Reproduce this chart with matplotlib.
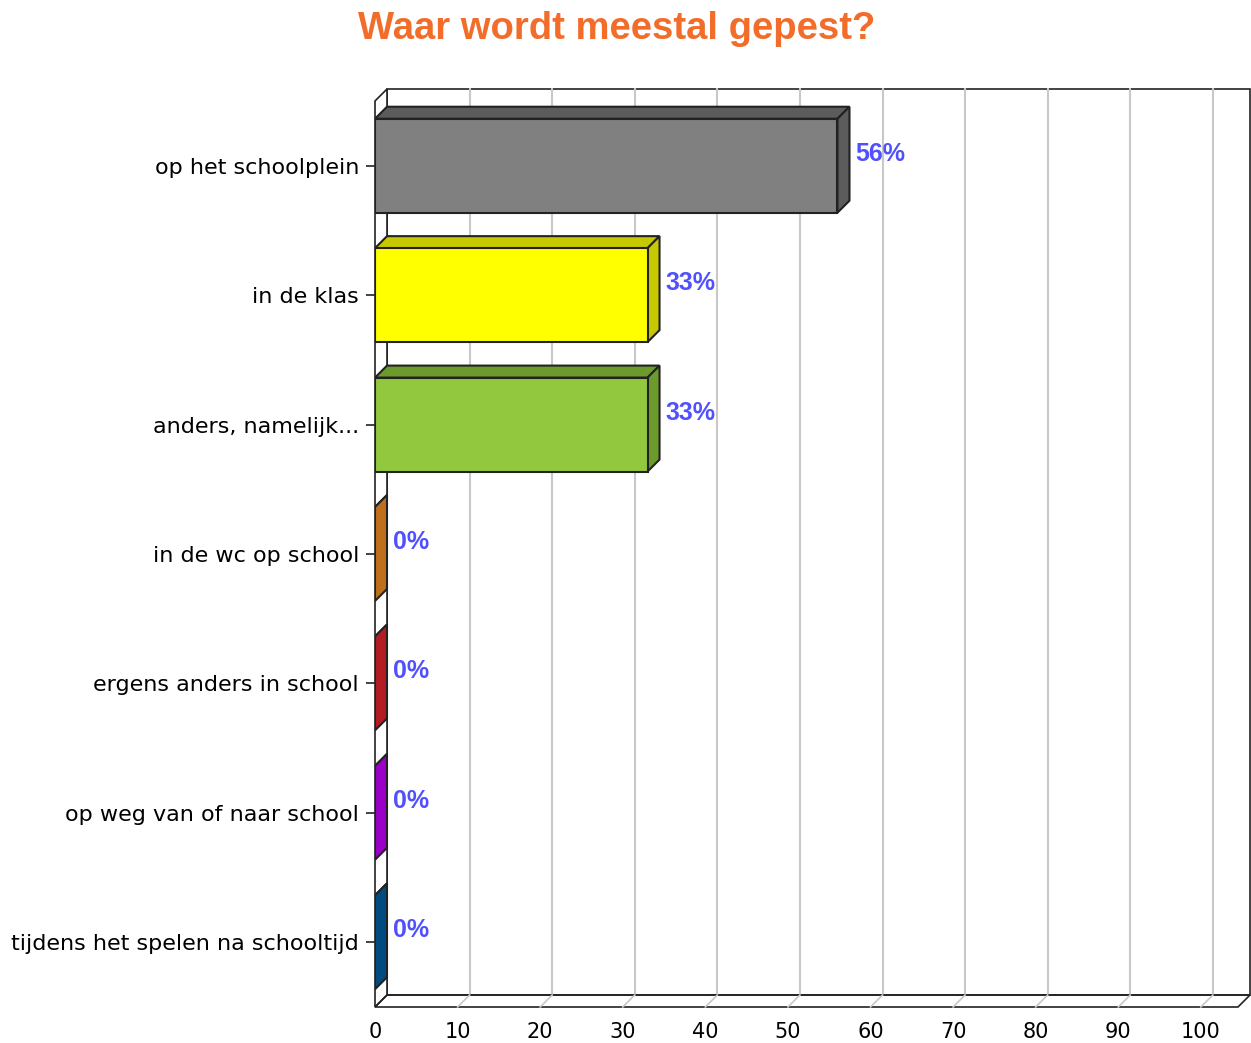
#!/usr/bin/env python3
import matplotlib
matplotlib.use('Agg')
import matplotlib.pyplot as plt
from matplotlib.patches import Polygon, Rectangle

# data
categories = ['op het schoolplein', 'in de klas', 'anders, namelijk...',
              'in de wc op school', 'ergens anders in school',
              'op weg van of naar school', 'tijdens het spelen na schooltijd']
values = [56, 33, 33, 0, 0, 0, 0]
front_colors = ['#808080', '#ffff00', '#92c83e', '#e08820', '#d02830', '#b000e8', '#005c9c']
shade_colors = ['#5c5c5c', '#c8c800', '#6c9a2c', '#c0701a', '#b41c24', '#9a00c8', '#004c80']
xticks = [0, 10, 20, 30, 40, 50, 60, 70, 80, 90, 100]
title = 'Waar wordt meestal gepest?'

W, H = 1251, 1043
fig = plt.figure(figsize=(W / 100, H / 100), dpi=100)
ax = fig.add_axes([375 / W, (H - 1007) / H, 863 / W, 906 / H])
ax.set_xlim(0, 104.5)
ax.set_ylim(6.5, -0.5)
for s in ax.spines.values():
    s.set_visible(False)
fig.canvas.draw()

# 3d depth (12 px right, 12 px up) in data units
p0 = ax.transData.transform((0, 0))
ddx, ddy = ax.transData.inverted().transform(p0 + [12, 12])
xmax = ax.get_xlim()[1]
ytop, ybot = -0.5, 6.5
lc = '#222222'

# back wall + gridlines
ax.add_patch(Rectangle((ddx, ytop + ddy), xmax, ybot - ytop, facecolor='white',
                       edgecolor=lc, lw=1.2, clip_on=False, zorder=0))
for t in xticks[1:]:
    ax.plot([t + ddx, t + ddx], [ytop + ddy, ybot + ddy], color='#c8c8c8', lw=1.5,
            clip_on=False, zorder=1)
# left wall
ax.add_patch(Polygon([(0, ytop), (ddx, ytop + ddy), (ddx, ybot + ddy), (0, ybot)],
                     facecolor='white', edgecolor=lc, lw=1.2, clip_on=False, zorder=2))
# floor
ax.add_patch(Polygon([(0, ybot), (ddx, ybot + ddy), (xmax + ddx, ybot + ddy), (xmax, ybot)],
                     facecolor='none', edgecolor=lc, lw=1.2, clip_on=False, zorder=2))
for t in xticks[1:]:
    ax.plot([t, t + ddx], [ybot, ybot + ddy], color='#c8c8c8', lw=1.2,
            clip_on=False, zorder=2)

# bars
hh = 0.363
for i, (v, fc, sc) in enumerate(zip(values, front_colors, shade_colors)):
    top, bot = i - hh, i + hh
    ax.add_patch(Polygon([(0, top), (v, top), (v + ddx, top + ddy), (ddx, top + ddy)],
                         facecolor=sc, edgecolor=lc, lw=1.5, zorder=3))
    ax.add_patch(Polygon([(v, top), (v + ddx, top + ddy), (v + ddx, bot + ddy), (v, bot)],
                         facecolor=sc, edgecolor=lc, lw=1.5, zorder=3))
    if v > 0:
        ax.add_patch(Rectangle((0, top), v, bot - top, facecolor=fc, edgecolor=lc,
                               lw=1.5, zorder=4))
    ax.annotate(f'{v}%', (v + ddx, i + ddy), xytext=(4.5, 0), textcoords='offset points',
                ha='left', va='center', color='#5050ff', fontsize=18,
                fontweight='bold', family='Liberation Sans', zorder=5)

ax.set_yticks(range(len(categories)))
ax.set_yticklabels(categories, fontsize=16, family='DejaVu Sans')
ax.tick_params(axis='y', length=6.5, width=1.2, pad=5, color=lc)
ax.set_xticks(xticks)
ax.set_xticklabels([str(t) for t in xticks], fontsize=15)
ax.tick_params(axis='x', length=0, pad=11)

fig.text(617 / W, 1 - 29 / H, title, ha='center', va='center', color='#f26d2a',
         fontsize=27.5, fontweight='bold', family='Liberation Sans')

fig.savefig('out.png', dpi=100)
